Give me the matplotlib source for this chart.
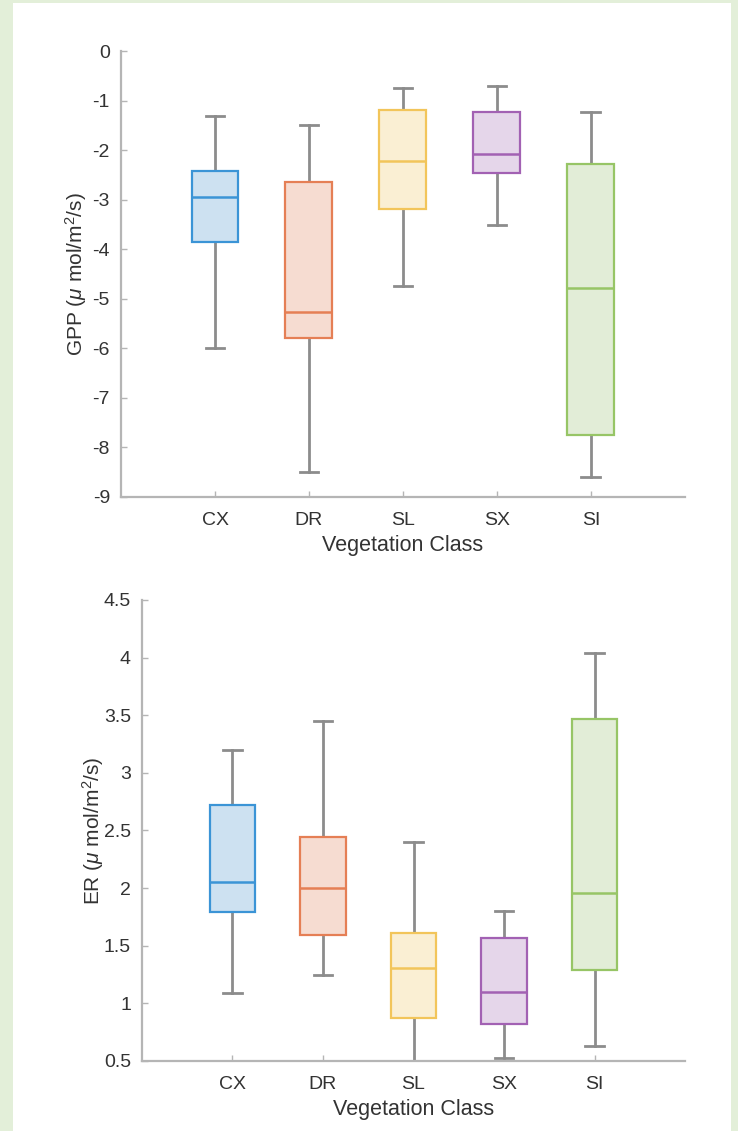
"""Box plots of GPP and ER by vegetation class (MATLAB-style look)."""

import matplotlib
matplotlib.use("Agg")
import matplotlib.pyplot as plt
from matplotlib.patches import Rectangle
from matplotlib.ticker import FuncFormatter

plt.rcParams["font.family"] = ["Liberation Sans", "DejaVu Sans"]
plt.rcParams["mathtext.fontset"] = "custom"
plt.rcParams["mathtext.rm"] = "Liberation Sans"
plt.rcParams["mathtext.it"] = "Liberation Sans:italic"

CLASSES = ["CX", "DR", "SL", "SX", "SI"]

# GPP (umol/m2/s): whisker low, q1, median, q3, whisker high
GPP_WLO = [-6.0, -8.5, -4.74, -3.51, -8.59]
GPP_Q1 = [-3.85, -5.79, -3.18, -2.46, -7.74]
GPP_MED = [-2.95, -5.26, -2.21, -2.08, -4.78]
GPP_Q3 = [-2.43, -2.64, -1.20, -1.24, -2.28]
GPP_WHI = [-1.31, -1.49, -0.75, -0.71, -1.24]

# ER (umol/m2/s)
ER_WLO = [1.09, 1.25, 0.50, 0.53, 0.63]
ER_Q1 = [1.79, 1.59, 0.87, 0.82, 1.29]
ER_MED = [2.05, 2.00, 1.31, 1.10, 1.96]
ER_Q3 = [2.72, 2.44, 1.61, 1.57, 3.47]
ER_WHI = [3.20, 3.45, 2.40, 1.80, 4.04]

EDGE_COLORS = ["#3b94d6", "#e57f55", "#f2c55a", "#a261b3", "#97c566"]
FILL_COLORS = ["#cde1f1", "#f6dcd1", "#faefd3", "#e5d6ea", "#e2edd7"]
WHISKER_COLOR = "#8c8c8c"
SPINE_COLOR = "#b5b5b5"
TEXT_COLOR = "#333333"
PAGE_GREEN = "#e3efd9"


def box_stats(wlo, q1, med, q3, whi):
    return [
        {"whislo": a, "q1": b, "med": c, "q3": d, "whishi": e, "fliers": []}
        for a, b, c, d, e in zip(wlo, q1, med, q3, whi)
    ]


def draw_boxes(ax, stats, ylim, yticks, ylabel, label_x):
    parts = ax.bxp(
        stats,
        positions=range(1, len(stats) + 1),
        widths=0.5,
        patch_artist=True,
        showfliers=False,
        whiskerprops={"color": WHISKER_COLOR, "linewidth": 2.0},
        capprops={"color": WHISKER_COLOR, "linewidth": 2.0},
        capwidths=0.2,
        zorder=2,
    )
    for box, median, edge, fill in zip(
        parts["boxes"], parts["medians"], EDGE_COLORS, FILL_COLORS
    ):
        box.set_facecolor(fill)
        box.set_edgecolor(edge)
        box.set_linewidth(1.6)
        box.set_zorder(3)
        median.set_color(edge)
        median.set_linewidth(1.8)
        median.set_zorder(4)

    ax.set_xlim(0, 6)
    ax.set_ylim(*ylim)
    ax.set_yticks(yticks)
    ax.yaxis.set_major_formatter(FuncFormatter(lambda v, _: f"{v:g}"))
    ax.set_xticks(range(1, len(CLASSES) + 1))
    ax.set_xticklabels(CLASSES)
    ax.tick_params(
        direction="in", length=4, width=1.0, color=SPINE_COLOR,
        labelsize=14, labelcolor=TEXT_COLOR,
    )
    ax.tick_params(axis="x", pad=11)
    ax.tick_params(axis="y", pad=8)
    ax.spines[["top", "right"]].set_visible(False)
    for side in ["left", "bottom"]:
        ax.spines[side].set_color(SPINE_COLOR)
        ax.spines[side].set_linewidth(1.6)
    ax.set_facecolor("none")
    ax.set_xlabel("Vegetation Class", fontsize=15.5, color=TEXT_COLOR, labelpad=4)
    ax.set_ylabel(ylabel, fontsize=15, color=TEXT_COLOR)
    ax.yaxis.set_label_coords(label_x, 0.5)


fig = plt.figure(figsize=(7.38, 11.31), dpi=100, facecolor=PAGE_GREEN)
fig.patches.append(
    Rectangle((13 / 738, 0), 718 / 738, 1 - 3 / 1131, transform=fig.transFigure,
              facecolor="white", edgecolor="none", zorder=-10)
)

ax_gpp = fig.add_axes([0.164, 0.5606, 0.764, 0.3943])
draw_boxes(
    ax_gpp,
    box_stats(GPP_WLO, GPP_Q1, GPP_MED, GPP_Q3, GPP_WHI),
    (-9, 0),
    list(range(-9, 1)),
    r"GPP ($\mu$ mol/m$^2$/s)",
    -0.056,
)

ax_er = fig.add_axes([0.1924, 0.0619, 0.7358, 0.4076])
draw_boxes(
    ax_er,
    box_stats(ER_WLO, ER_Q1, ER_MED, ER_Q3, ER_WHI),
    (0.5, 4.5),
    [0.5 * k for k in range(1, 10)],
    r"ER ($\mu$ mol/m$^2$/s)",
    -0.066,
)

fig.savefig("out.png", dpi=100, facecolor=PAGE_GREEN)
